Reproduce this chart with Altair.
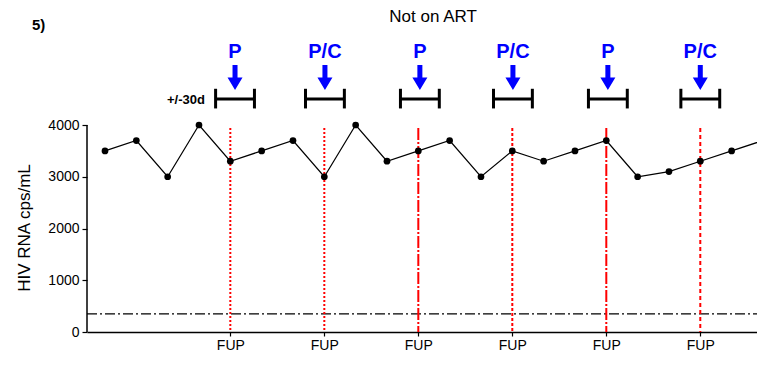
import altair as alt
import pandas as pd

# ---------------- data ----------------
visit = list(range(1, 23))
rna = [3500, 3700, 3000, 4000, 3300, 3500, 3700, 3000, 4000, 3300, 3500,
       3700, 3000, 3500, 3300, 3500, 3700, 3000, 3100, 3300, 3500, 3700]
fup_visits = [5, 8, 11, 14, 17, 20]
fup_label = "FUP"
window_centers = [5.15, 8.02, 11.05, 14.02, 17.05, 20.0]
window_labels = ["P", "P/C", "P", "P/C", "P", "P/C"]
window_half = 0.62          # +/- 30 days in visit units
threshold = 350
y_ticks = [0, 1000, 2000, 3000, 4000]
title_text = "Not on ART"
panel_text = "5)"
window_text = "+/-30d"
y_title = "HIV  RNA cps/mL"

# ---------------- layout / style ----------------
FONT = "Liberation Sans"
W, H = 670, 324
X0, X1 = 0.4255, 21.81
Y1 = 6261
fup_dash = [[2, 2], [2, 2], [12, 2, 2, 2], [3, 2], [12, 2, 2, 2], [4, 3]]

xs = alt.Scale(domain=[X0, X1], nice=False, zero=False)
ys = alt.Scale(domain=[0, Y1], nice=False, zero=False)

xax = alt.Axis(values=fup_visits, labelExpr="'%s'" % fup_label, title=None, grid=False,
               domainColor="black", domainWidth=1.5, tickColor="black", tickSize=4,
               tickWidth=1.2, labelFontSize=14, labelColor="black", labelPadding=2,
               labelFont=FONT)
yax = alt.Axis(values=y_ticks, format="d", domain=False, grid=False, title=None, tickSize=5,
               tickColor="black", tickWidth=1.2, labelFontSize=14, labelColor="black",
               labelPadding=3, labelFont=FONT)


def X(f):
    return alt.X(f, scale=xs, axis=xax)


def Y(f):
    return alt.Y(f, scale=ys, axis=yax)


df = pd.DataFrame({"visit": visit, "rna": rna})
df_fup = pd.DataFrame({"visit": fup_visits, "line": list(range(len(fup_visits)))})
df_fup["top"] = 3942
df_fup["bot"] = 0
df_win = pd.DataFrame({"c": window_centers, "lab": window_labels})
df_win["lo"] = df_win["c"] - window_half
df_win["hi"] = df_win["c"] + window_half
df_win["bar"] = 4502
df_win["cap_top"] = 4700
df_win["cap_bot"] = 4320
df_win["arrow"] = 4918
df_win["laby"] = 5411

line = alt.Chart(df).mark_line(color="black", strokeWidth=1.2).encode(
    x=X("visit:Q"), y=Y("rna:Q"))
pts = alt.Chart(df).mark_point(filled=True, shape="circle", size=45, color="black",
                               opacity=1).encode(x=X("visit:Q"), y=Y("rna:Q"))

yaxis_line = alt.Chart(pd.DataFrame({"a": [0.0], "b": [4000.0], "x0": [X0]})).mark_rule(
    color="black", strokeWidth=1.5).encode(x=X("x0:Q"), y=Y("a:Q"), y2=alt.Y2("b"))

fup_rules = alt.Chart(df_fup).mark_rule(color="red", strokeWidth=2).encode(
    x=X("visit:Q"), y=Y("top:Q"), y2=alt.Y2("bot"),
    strokeDash=alt.StrokeDash("line:N", scale=alt.Scale(domain=list(range(len(fup_visits))),
                                                       range=fup_dash), legend=None),
)

thr = alt.Chart(pd.DataFrame({"t": [threshold], "x0": [X0], "x1": [X1]})).mark_rule(
    color="black", strokeWidth=1.3, strokeDash=[10, 3, 2, 3]).encode(
    y=Y("t:Q"), x=X("x0:Q"), x2=alt.X2("x1"))

bars = alt.Chart(df_win).mark_rule(color="black", strokeWidth=3).encode(
    x=X("lo:Q"), x2=alt.X2("hi"), y=Y("bar:Q"))
caps_l = alt.Chart(df_win).mark_rule(color="black", strokeWidth=3).encode(
    x=X("lo:Q"), y=Y("cap_top:Q"), y2=alt.Y2("cap_bot"))
caps_r = alt.Chart(df_win).mark_rule(color="black", strokeWidth=3).encode(
    x=X("hi:Q"), y=Y("cap_top:Q"), y2=alt.Y2("cap_bot"))
arrows = alt.Chart(df_win).mark_point(
    shape="M-0.2,-1L0.2,-1L0.2,0L0.6,0L0,1L-0.6,0L-0.2,0Z",
    filled=True, size=625, color="#0000ff", opacity=1).encode(
    x=X("c:Q"), y=Y("arrow:Q"))
labs = alt.Chart(df_win).mark_text(font=FONT, fontSize=20, fontWeight="bold",
                                   color="#0000ff", baseline="middle").encode(
    x=X("c:Q"), y=Y("laby:Q"), text="lab:N")

df_txt = pd.DataFrame({"x": [11.47], "y": [6090], "t": [title_text]})
title = alt.Chart(df_txt).mark_text(font=FONT, fontSize=17, color="black",
                                    baseline="middle").encode(
    x=X("x:Q"), y=Y("y:Q"), text="t:N")

df_panel = pd.DataFrame({"x": [-1.33], "y": [5932], "t": [panel_text]})
panel = alt.Chart(df_panel).mark_text(font=FONT, fontSize=15, fontWeight="bold",
                                      color="black", align="left", baseline="middle").encode(
    x=X("x:Q"), y=Y("y:Q"), text="t:N")

df_w = pd.DataFrame({"x": [4.19], "y": [4483], "t": [window_text]})
wtxt = alt.Chart(df_w).mark_text(font=FONT, fontSize=13, fontWeight="bold",
                                 color="black", align="right", baseline="middle").encode(
    x=X("x:Q"), y=Y("y:Q"), text="t:N")

ytitle = alt.Chart(pd.DataFrame({"t": [y_title]})).mark_text(
    font=FONT, fontSize=17, color="black", angle=270, align="center",
    baseline="middle").encode(x=alt.value(-62), y=alt.value(220), text="t:N")

chart = alt.layer(
    thr, fup_rules, line, pts, yaxis_line, bars, caps_l, caps_r, arrows, labs,
    title, panel, wtxt, ytitle
).properties(
    width=W, height=H,
    background="white",
    autosize=alt.AutoSizeParams(type="none"),
    padding={"left": 79, "top": 0, "right": 0, "bottom": 20},
).configure_view(stroke=None).configure_axisY(domain=False)

chart.save("out.html", embed_options={"renderer": "svg", "actions": False})
